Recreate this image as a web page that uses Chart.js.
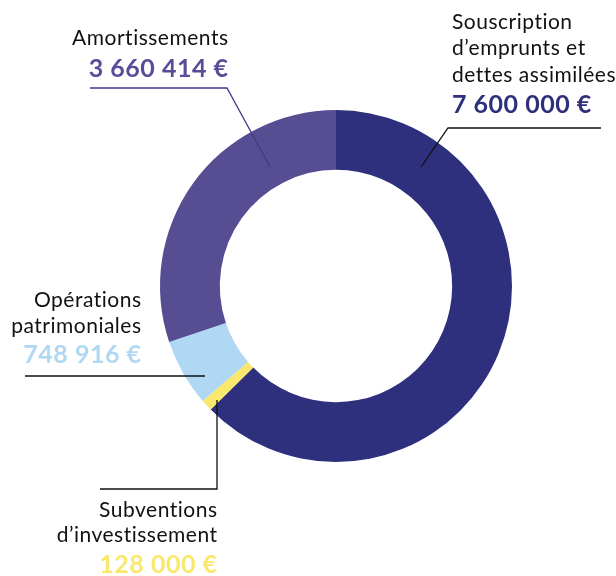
<!DOCTYPE html>
<html><head><meta charset="utf-8">
<script src="https://cdn.jsdelivr.net/npm/chart.js@4.4.1/dist/chart.umd.min.js"></script>
<style>html,body{margin:0;padding:0;background:#fff}#wrap{width:616px;height:576px}</style>
</head><body><div id="wrap"><canvas id="c" width="616" height="576"></canvas></div>
<script>
const categories = ["Souscription d’emprunts et dettes assimilées", "Subventions d’investissement", "Opérations patrimoniales", "Amortissements"];
const values = [7600000, 128000, 748916, 3660414];
const valueLabels = ["7 600 000 €", "128 000 €", "748 916 €", "3 660 414 €"];
const labelLines = [["Souscription", "d’emprunts et", "dettes assimilées"], ["Subventions", "d’investissement"], ["Opérations", "patrimoniales"], ["Amortissements"]];
const colors = ["#2e2f7d", "#f9e86c", "#b0d8f2", "#564d93"];
const valueColors = ["#2e2f7d", "#f9e86c", "#b0d8f2", "#574d99"];

// annotation layout (label text anchors, leader line paths relative to chart centre)
const layout = [
  {align:"left", x:452, lines:[29,55,82], valY:113, path:[[601,128],[448,128]], anchor:[85,-119], lineColor:"#111"},
  {align:"right", x:217, lines:[517,542], valY:573, path:[[100,489],[217,489]], anchor:[-119,114], lineColor:"#111"},
  {align:"right", x:141, lines:[307,333], valY:363, path:[[25,376]], anchor:[-131,90], lineColor:"#111"},
  {align:"right", x:228, lines:[45], valY:77, path:[[90,88],[227,88]], anchor:[-66,-119], lineColor:"#3b3b8c"}
];

const labelsPlugin = {
  id:"callouts",
  afterDatasetsDraw(chart){
    const ctx = chart.ctx;
    const meta = chart.getDatasetMeta(0);
    const arc0 = meta.data[0];
    const cx = arc0.x, cy = arc0.y;
    layout.forEach((l,i)=>{
      ctx.save();
      ctx.strokeStyle = l.lineColor; ctx.lineWidth = 1.3;
      ctx.beginPath();
      ctx.moveTo(l.path[0][0], l.path[0][1]);
      for(let k=1;k<l.path.length;k++) ctx.lineTo(l.path[k][0], l.path[k][1]);
      ctx.lineTo(cx + l.anchor[0], cy + l.anchor[1]);
      ctx.stroke();
      ctx.textAlign = l.align; ctx.textBaseline = "alphabetic";
      ctx.fillStyle = "#111";
      ctx.letterSpacing = "0.5px";
      ctx.font = "400 21px Lato";
      const off = l.align === "right" ? 0.5 : 0;
      labelLines[i].forEach((t,j)=> ctx.fillText(t, l.x + off, l.lines[j]));
      ctx.fillStyle = valueColors[i];
      ctx.font = "700 25px Lato";
      ctx.fillText(valueLabels[i], l.x + off, l.valY);
      ctx.restore();
    });
  }
};

new Chart(document.getElementById("c"), {
  type:"doughnut",
  data:{labels:categories, datasets:[{data:values, backgroundColor:colors, borderWidth:0, hoverOffset:0}]},
  options:{
    responsive:false, animation:false, cutout:"66%",
    layout:{padding:{left:160, right:104, top:110, bottom:114}},
    plugins:{legend:{display:false}, tooltip:{enabled:false}}
  },
  plugins:[labelsPlugin]
});
</script></body></html>
